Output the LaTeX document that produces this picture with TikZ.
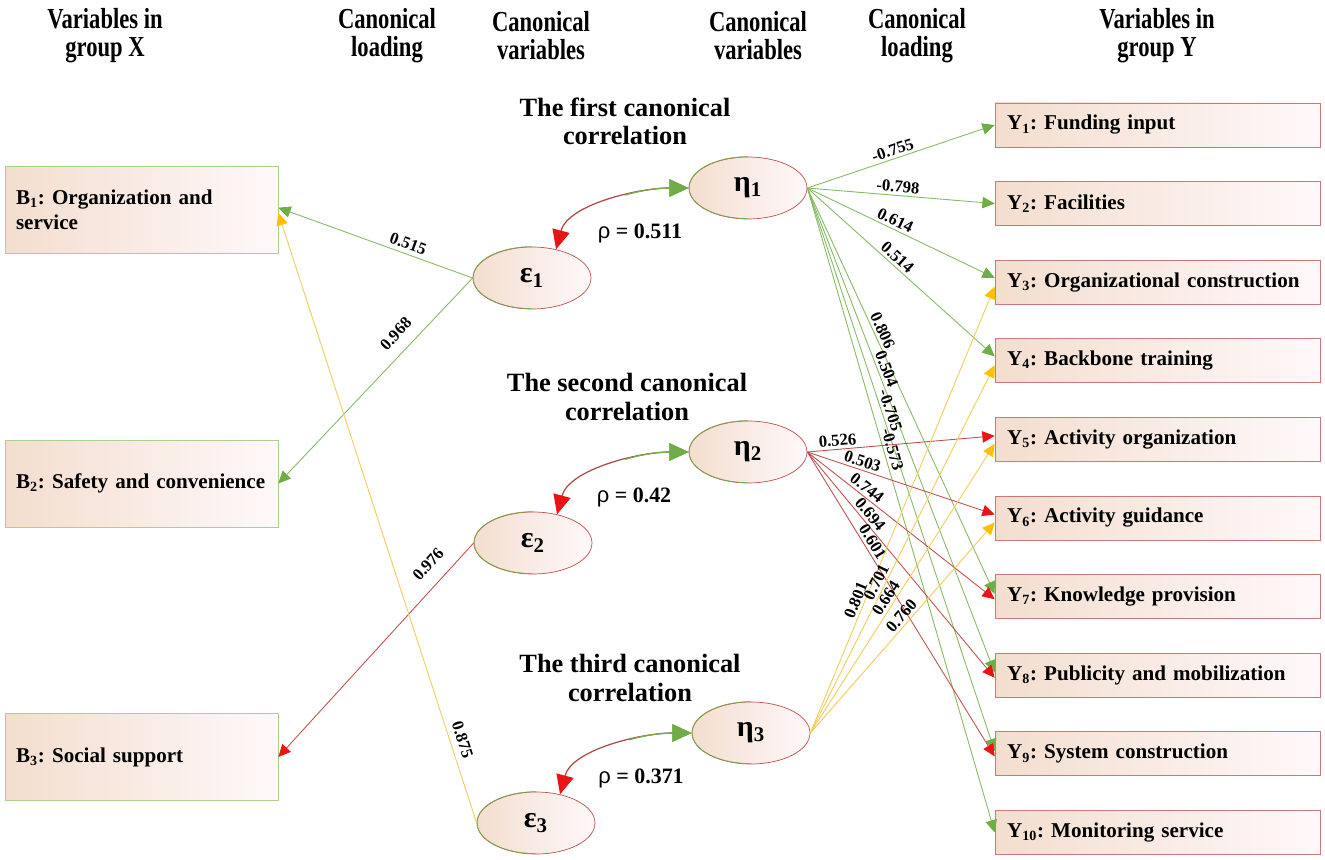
\documentclass[tikz,border=0pt]{standalone}
\usepackage{fontspec}
\setmainfont{Liberation Serif}
\newfontfamily\rhofont{Liberation Sans}
\newfontfamily\headfont[FakeStretch=0.78]{Liberation Serif}
\usepackage{tikz}
\usetikzlibrary{shapes.geometric, arrows.meta}
\definecolor{boxtan}{RGB}{243, 222, 206}
\definecolor{boxpale}{RGB}{255, 248, 250}
\definecolor{xborder}{RGB}{170, 210, 140}
\definecolor{yborder}{RGB}{205, 120, 120}
\definecolor{loadgreen}{RGB}{112, 173, 71}
\definecolor{loadred}{RGB}{192, 80, 77}
\definecolor{loadyellow}{RGB}{240, 205, 90}
\definecolor{tipred}{RGB}{235, 20, 20}
\definecolor{tipyellow}{RGB}{255, 192, 0}
\frenchspacing
\hyphenpenalty=10000

\begin{document}
\begin{tikzpicture}[
    x=0.02cm, y=0.02cm,
    every node/.style={font=\bfseries},
    head/.style={font=\headfont\fontsize{16.5}{16}\selectfont\bfseries, align=center},
    ttl/.style={font=\fontsize{15}{16}\selectfont\bfseries, align=center},
    xbox/.style={draw=xborder, left color=boxtan, right color=boxpale, minimum width=5.46cm, minimum height=1.74cm, text width=5.02cm, inner xsep=0.22cm, align=left, font=\fontsize{12}{14}\selectfont\bfseries},
    ybox/.style={draw=yborder, left color=boxtan, right color=boxpale, minimum width=6.5cm, minimum height=0.88cm, text width=6.02cm, inner xsep=0.24cm, align=left, font=\fontsize{12}{14}\selectfont\bfseries},
    cvar/.style={ellipse, draw=loadred, left color=boxtan, right color=boxpale, minimum width=2.36cm, minimum height=1.24cm, inner sep=0pt, font=\fontsize{17}{17}\selectfont\bfseries},
    lab/.style={sloped, above, inner sep=1.5pt, font=\fontsize{9.5}{10}\selectfont\bfseries},
    rho/.style={font=\fontsize{12.5}{14}\selectfont\bfseries},
    gline/.style={draw=loadgreen!85, line width=0.5pt, -{Triangle[length=7pt, width=6.5pt, color=loadgreen]}},
    rline/.style={draw=loadred, line width=0.5pt, -{Triangle[length=7pt, width=6.5pt, color=tipred]}},
    yline/.style={draw=loadyellow, line width=0.5pt, -{Triangle[length=7pt, width=6.5pt, color=tipyellow]}},
    corr/.style={draw=loadred!90!black, line width=0.7pt, {Triangle[length=11pt, width=10pt, color=tipred]}-{Triangle[length=11pt, width=10pt, color=loadgreen]}},
    corrgreen/.style={draw=loadgreen, line width=0.7pt, dash pattern=on 0pt off 52pt on 300pt, -{Triangle[length=11pt, width=10pt, color=loadgreen]}}
]
\useasboundingbox (0,0) rectangle (1325,859);

% Column headers
\node[head] (hx) at (105,823) {Variables in\\group X};
\node[head] (hlx) at (387,823) {Canonical\\loading};
\node[head] (hvx) at (541,823) {Canonical\\variables};
\node[head] (hvy) at (758,823) {Canonical\\variables};
\node[head] (hly) at (917,823) {Canonical\\loading};
\node[head] (hy) at (1157,823) {Variables in\\group Y};

% Group X
\node[xbox] (B1) at (141.5,649.5) {B\textsubscript{1}: Organization and\\service};
\node[xbox] (B2) at (141.5,375.5) {B\textsubscript{2}: Safety and convenience};
\node[xbox] (B3) at (141.5,102) {B\textsubscript{3}: Social support};

% Group Y
\foreach \i/\txt in {1/Funding input, 2/Facilities, 3/Organizational construction, 4/Backbone training, 5/Activity organization, 6/Activity guidance, 7/Knowledge provision, 8/Publicity and mobilization, 9/System construction, 10/Monitoring service} {
    \node[ybox] (Y\i) at (1157.5,{734-78.6*(\i-1)}) {Y\textsubscript{\i}: \txt};
}

% Correlation titles
\node[ttl] (t1) at (625,738) {The first canonical\\correlation};
\node[ttl] (t2) at (627,462) {The second canonical\\correlation};
\node[ttl] (t3) at (630,181) {The third canonical\\correlation};

% Canonical variables
\node[cvar] (e1) at (532,581) {ε\textsubscript{1}};
\node[cvar] (h1) at (748,671) {η\textsubscript{1}};
\node[cvar] (e2) at (533,316) {ε\textsubscript{2}};
\node[cvar] (h2) at (748,407) {η\textsubscript{2}};
\node[cvar] (e3) at (536,36) {ε\textsubscript{3}};
\node[cvar] (h3) at (751,126) {η\textsubscript{3}};
\foreach \n in {e1,h1,e2,h2,e3,h3} {
    \draw[loadgreen] (\n.north) arc[start angle=90, end angle=270, x radius=1.18cm, y radius=0.62cm];
}

% Correlations (red half, then green half on top)
\foreach \e/\h in {e1/h1, e2/h2, e3/h3} {
    \draw[corr] (\e.50) .. controls +(12,45) and +(-50,0) .. (\h.west);
    \draw[corrgreen] (\e.50) .. controls +(12,45) and +(-50,0) .. (\h.west);
}
\node[rho] (r1) at (640,626) {{\rhofont\mdseries ρ} = 0.511};
\node[rho] (r2) at (634,362) {{\rhofont\mdseries ρ} = 0.42};
\node[rho] (r3) at (641,81) {{\rhofont\mdseries ρ} = 0.371};

% Loadings, group X
\draw[gline] (e1.west) -- ([yshift=1pt]B1.east) node[lab, pos=0.35, above=1pt] {0.515};
\draw[gline] (e1.west) -- (B2.east) node[lab, pos=0.33, above=5pt] {0.968};
\draw[rline] (e2.west) -- (B3.east) node[lab, pos=0.16, above=6pt] {0.976};
\draw[yline] (e3.west) -- ([yshift=-2pt]B1.east) node[lab, pos=0.13, above=2pt] {0.875};

% Loadings, group Y
\foreach \k/\s/\v/\p in {1/0/-0.755/0.47, 2/0/-0.798/0.48, 3/2.5/0.614/0.45, 4/2.5/0.514/0.45, 7/1.5/0.806/0.36, 8/1.5/0.504/0.38, 9/1.5/-0.705/0.40, 10/0/-0.573/0.41} {
    \draw[gline] (h1.east) -- ([yshift=\s pt]Y\k.west) node[lab, pos=\p] {\v};
}
\foreach \k/\s/\v/\p in {5/2/0.526/0.165, 6/2/0.503/0.28, 7/-1.5/0.744/0.29, 8/-1.5/0.694/0.30, 9/-1.5/0.601/0.31} {
    \draw[rline] (h2.east) -- ([yshift=\s pt]Y\k.west) node[lab, pos=\p] {\v};
}
\foreach \k/\v/\p in {3/0.801/0.29, 4/0.701/0.40, 5/0.664/0.45, 6/0.760/0.53} {
    \draw[yline] (h3.east) -- ([yshift=-2.5pt]Y\k.west) node[lab, pos=\p] {\v};
}

\end{tikzpicture}
\end{document}
